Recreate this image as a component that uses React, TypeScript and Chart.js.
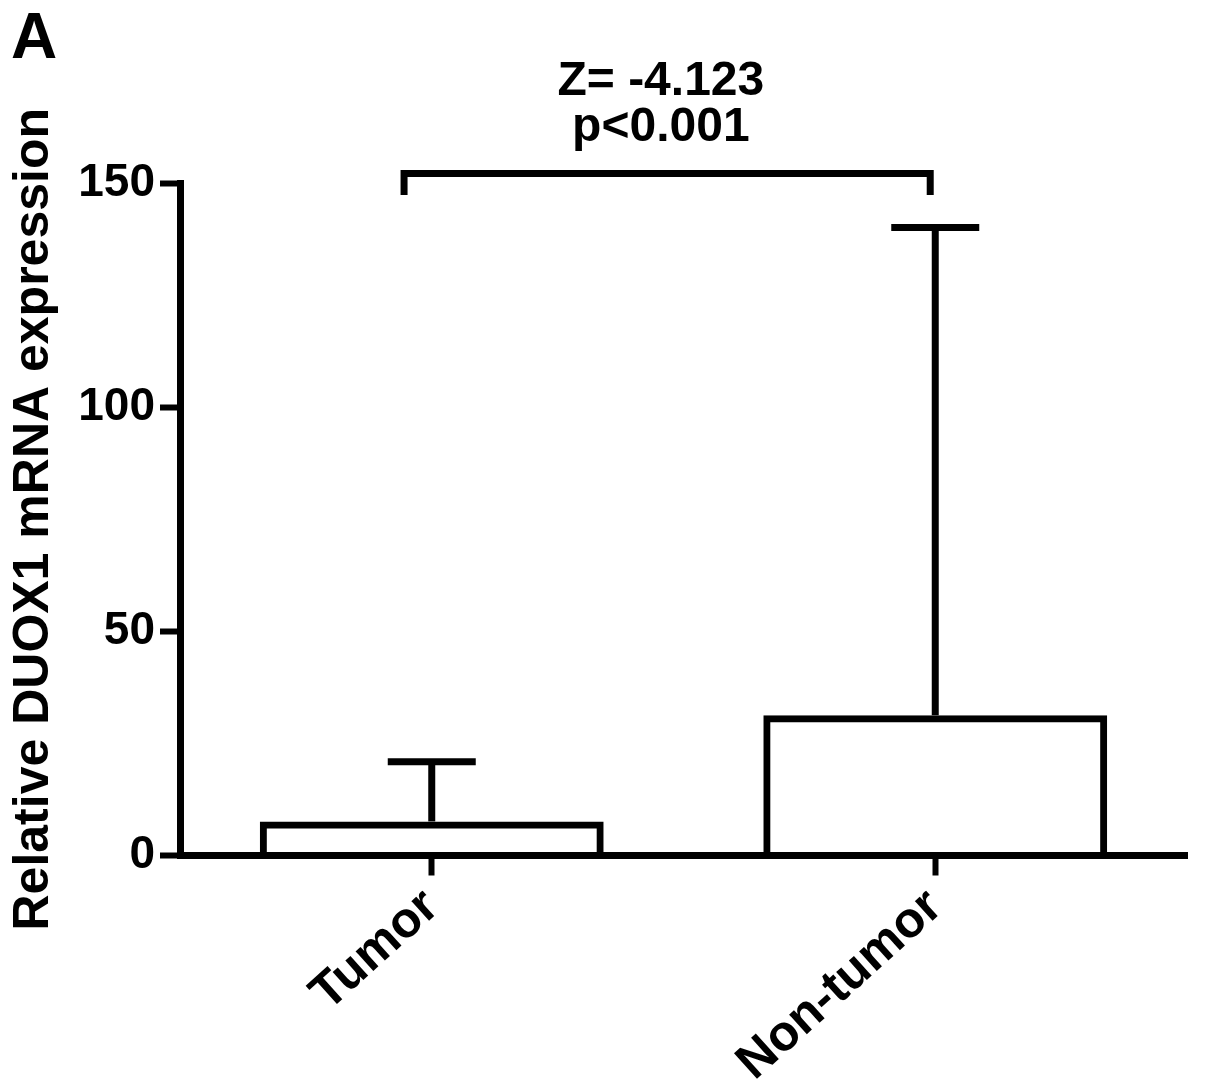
import React, { useEffect, useRef } from "react";
import { Chart, registerables } from "chart.js";

Chart.register(...registerables);

// ---- data ----
const categories = ["Tumor", "Non-tumor"];
const barValues = [7.6, 31.3];
const upperErrorValues = [20.9, 140.1];
const yMin = 0;
const yMax = 150;
const yStep = 50;
const yAxisTitle = "Relative DUOX1 mRNA expression";
const panelLabel = "A";
const statLines = ["Z= -4.123", "p<0.001"];
// bracket: category-index positions and y values
const bracketFrom = -0.055;
const bracketTo = 0.99;
const bracketValue = 152.1;
const bracketTickValue = 147.3;
const statTextCenter = 0.455;

const W = 1205;
const H = 1087;
const FONT = "'Liberation Sans', Arial, Helvetica, sans-serif";
const LINE = 7;

const extrasPlugin = {
  id: "extras",
  afterDatasetsDraw(chart: any) {
    const { ctx, scales } = chart;
    const x = scales.x;
    const y = scales.y;
    const catW = x.getPixelForValue(1) - x.getPixelForValue(0);
    const px = (v: number) => x.getPixelForValue(0) + v * catW;
    ctx.save();
    ctx.strokeStyle = "#000";
    ctx.fillStyle = "#000";
    ctx.lineWidth = LINE;
    ctx.lineCap = "butt";
    ctx.lineJoin = "miter";

    // error bars (upper only)
    const capHalf = 44;
    barValues.forEach((v, i) => {
      const cx = x.getPixelForValue(i);
      const yTop = y.getPixelForValue(upperErrorValues[i]);
      const yBar = y.getPixelForValue(v);
      ctx.beginPath();
      ctx.moveTo(cx, yBar);
      ctx.lineTo(cx, yTop);
      ctx.stroke();
      ctx.beginPath();
      ctx.moveTo(cx - capHalf, yTop);
      ctx.lineTo(cx + capHalf, yTop);
      ctx.stroke();
    });

    // significance bracket
    const bx1 = px(bracketFrom);
    const bx2 = px(bracketTo);
    const by = y.getPixelForValue(bracketValue);
    const byt = y.getPixelForValue(bracketTickValue);
    ctx.beginPath();
    ctx.moveTo(bx1, byt);
    ctx.lineTo(bx1, by);
    ctx.lineTo(bx2, by);
    ctx.lineTo(bx2, byt);
    ctx.stroke();

    // statistics text
    ctx.font = `bold 48px ${FONT}`;
    ctx.textAlign = "center";
    ctx.textBaseline = "alphabetic";
    const tx = px(statTextCenter);
    ctx.fillText(statLines[0], tx, by - 78.5);
    ctx.fillText(statLines[1], tx, by - 33);

    // panel label
    ctx.font = `bold 64px ${FONT}`;
    ctx.textAlign = "left";
    ctx.fillText(panelLabel, 11, 58);
    ctx.restore();
  },
};

export default function App() {
  const canvasRef = useRef<HTMLCanvasElement | null>(null);

  useEffect(() => {
    const canvas = canvasRef.current;
    if (!canvas) return;
    Chart.defaults.font.family = FONT;
    const chart = new Chart(canvas, {
      type: "bar",
      data: {
        labels: categories,
        datasets: [
          {
            data: barValues,
            backgroundColor: "rgba(0,0,0,0)",
            borderColor: "#000",
            borderWidth: LINE,
            borderSkipped: "start",
            barPercentage: 0.683,
            categoryPercentage: 1,
          },
        ],
      },
      options: {
        responsive: false,
        animation: false,
        devicePixelRatio: 1,
        layout: { padding: { top: 183, right: 18, bottom: 0, left: 0 } },
        plugins: {
          legend: { display: false },
          tooltip: { enabled: false },
          title: { display: false },
        },
        scales: {
          x: {
            type: "category",
            offset: true,
            grid: {
              offset: false,
              drawOnChartArea: false,
              drawTicks: true,
              tickLength: 20,
              tickWidth: 6,
              tickColor: "#000",
            },
            border: { display: true, color: "#000", width: LINE },
            ticks: {
              color: "#000",
              font: { size: 50, weight: "bold", family: FONT },
              minRotation: 42,
              maxRotation: 42,
              padding: 2,
              autoSkip: false,
            },
            afterFit: (s: any) => {
              s.height = H - 855.5;
            },
          },
          y: {
            type: "linear",
            min: yMin,
            max: yMax,
            ticks: {
              stepSize: yStep,
              color: "#000",
              font: { size: 46, weight: "bold", family: FONT },
              padding: 5,
            },
            grid: {
              drawOnChartArea: false,
              drawTicks: true,
              tickLength: 20,
              tickWidth: 6,
              tickColor: "#000",
            },
            border: { display: true, color: "#000", width: LINE },
            title: {
              display: true,
              text: yAxisTitle,
              color: "#000",
              font: { size: 50, weight: "bold", family: FONT },
              padding: { top: 4.5, bottom: 0 },
            },
            afterFit: (s: any) => {
              s.width = 180;
            },
          },
        },
      },
      plugins: [extrasPlugin],
    });
    return () => chart.destroy();
  }, []);

  return (
    <div
      style={{
        position: "fixed",
        left: 0,
        top: 0,
        width: W,
        height: H,
        background: "#fff",
      }}
    >
      <canvas
        ref={canvasRef}
        width={W}
        height={H}
        style={{ width: W, height: H, display: "block" }}
      />
    </div>
  );
}
